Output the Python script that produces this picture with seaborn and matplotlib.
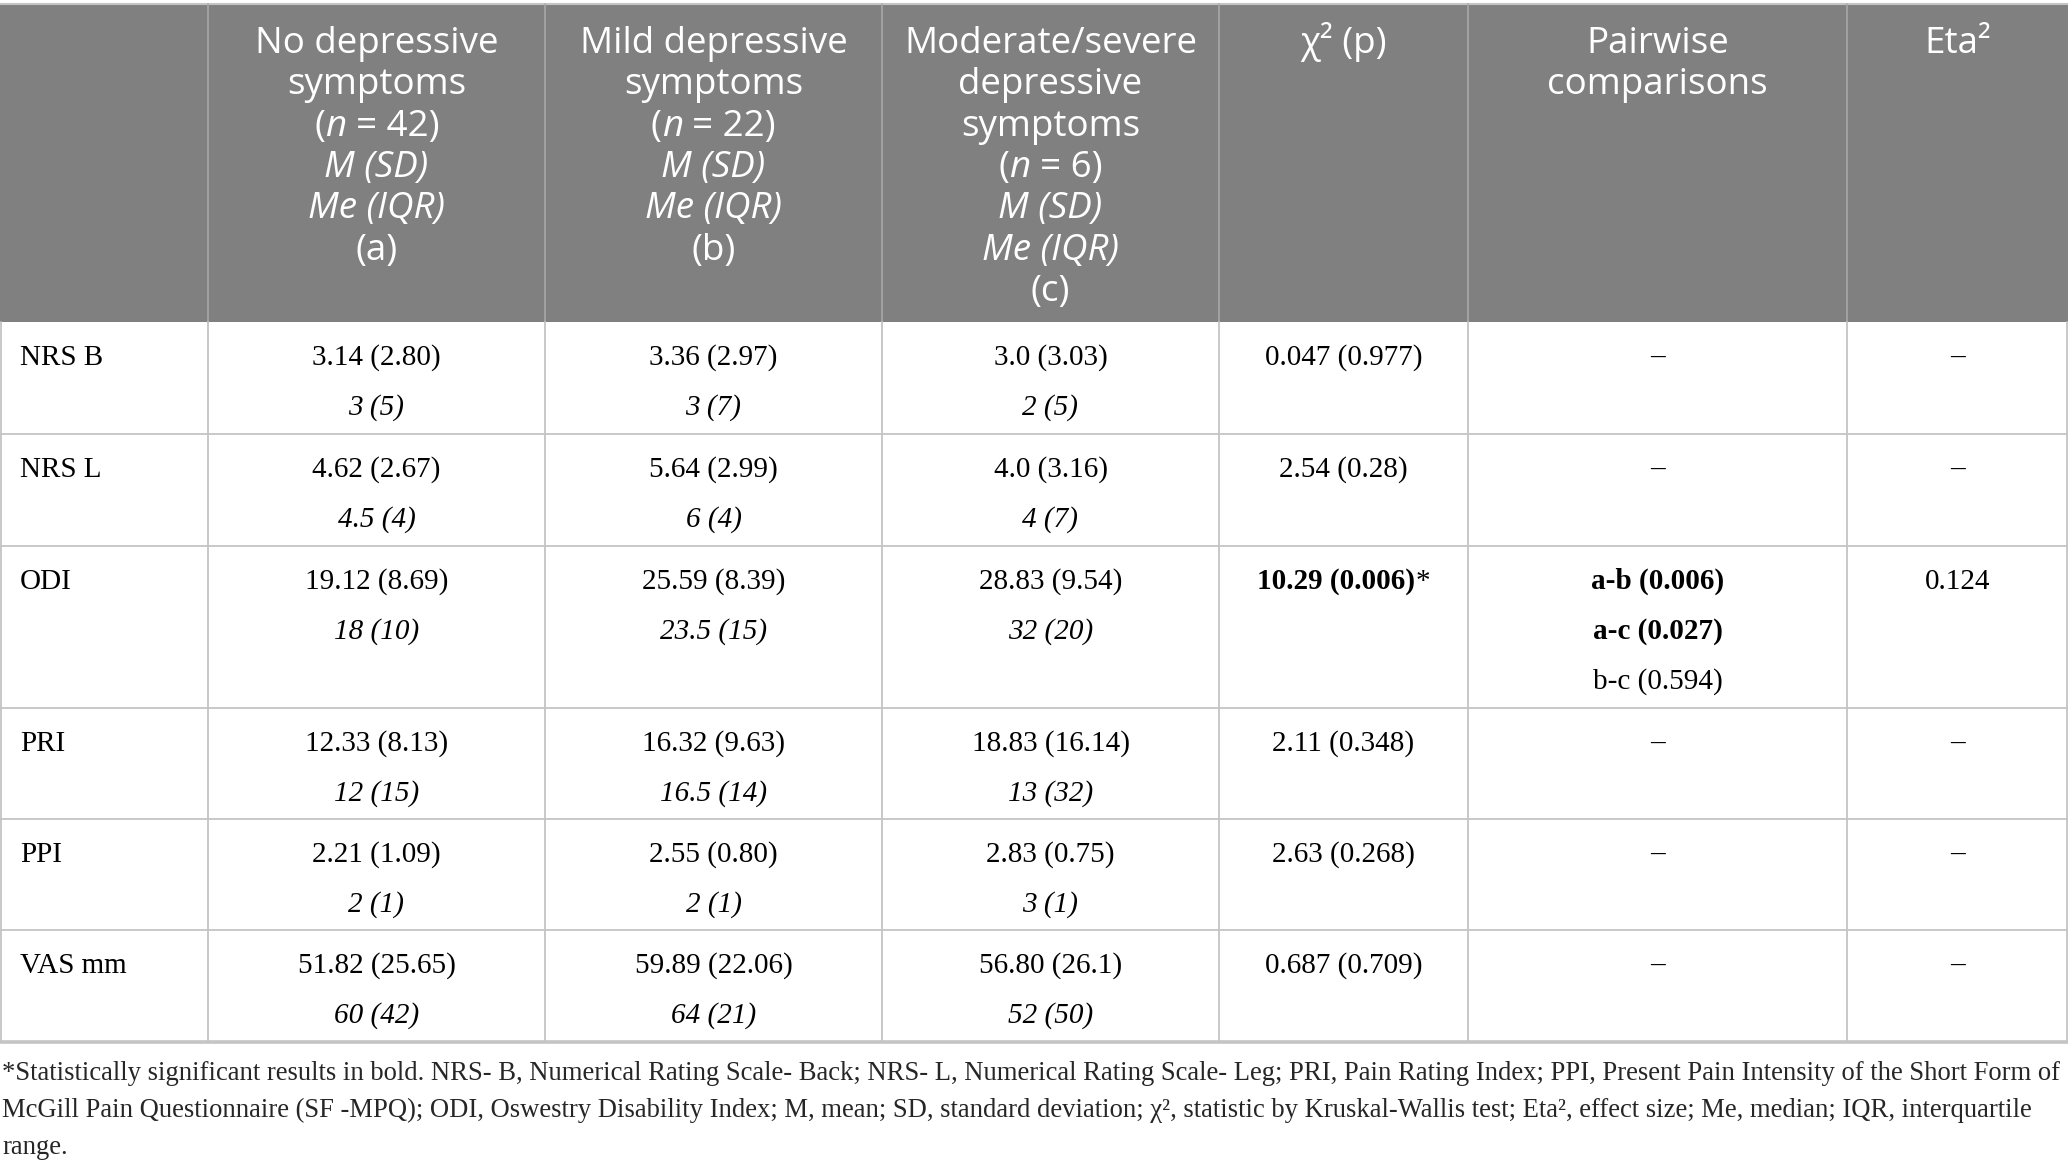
import matplotlib
matplotlib.use("Agg")
import matplotlib.pyplot as plt
import seaborn as sb

# ---- table data -------------------------------------------------------
groups = [["No depressive", "symptoms"],
          ["Mild depressive", "symptoms"],
          ["Moderate/severe", "depressive", "symptoms"]]
group_n = [42, 22, 6]
group_tags = ["(a)", "(b)", "(c)"]
stat_headers = ["χ² (p)", "Pairwise\ncomparisons", "Eta²"]

measures = ["NRS B", "NRS L", "ODI", "PRI", "PPI", "VAS mm"]
mean_sd = [["3.14 (2.80)", "3.36 (2.97)", "3.0 (3.03)"],
           ["4.62 (2.67)", "5.64 (2.99)", "4.0 (3.16)"],
           ["19.12 (8.69)", "25.59 (8.39)", "28.83 (9.54)"],
           ["12.33 (8.13)", "16.32 (9.63)", "18.83 (16.14)"],
           ["2.21 (1.09)", "2.55 (0.80)", "2.83 (0.75)"],
           ["51.82 (25.65)", "59.89 (22.06)", "56.80 (26.1)"]]
median_iqr = [["3 (5)", "3 (7)", "2 (5)"],
              ["4.5 (4)", "6 (4)", "4 (7)"],
              ["18 (10)", "23.5 (15)", "32 (20)"],
              ["12 (15)", "16.5 (14)", "13 (32)"],
              ["2 (1)", "2 (1)", "3 (1)"],
              ["60 (42)", "64 (21)", "52 (50)"]]
chi2_p = ["0.047 (0.977)", "2.54 (0.28)", "10.29 (0.006)", "2.11 (0.348)", "2.63 (0.268)", "0.687 (0.709)"]
chi2_sig = [False, False, True, False, False, False]
pairwise = [[], [], [("a-b (0.006)", True), ("a-c (0.027)", True), ("b-c (0.594)", False)], [], [], []]
eta2 = ["–", "–", "0.124", "–", "–", "–"]

footnote = ["*Statistically significant results in bold. NRS- B, Numerical Rating Scale- Back; NRS- L, Numerical Rating Scale- Leg; PRI, Pain Rating Index; PPI, Present Pain Intensity of the Short Form of",
            "McGill Pain Questionnaire (SF -MPQ); ODI, Oswestry Disability Index; M, mean; SD, standard deviation; χ², statistic by Kruskal-Wallis test; Eta², effect size; Me, median; IQR, interquartile",
            "range."]

# ---- layout (pixels) --------------------------------------------------
W, H = 2068, 1168
col_edges = [0, 208, 545, 882, 1219, 1468, 1847, 2068]
head_top, head_bottom = 4, 322
row_heights = [112, 112, 162, 111, 111, 112]

HEAD_FONT = ["Open Sans", "DejaVu Sans"]
BODY_FONT = ["Liberation Serif", "DejaVu Serif"]
HEAD_SIZE = 26.5
BODY_SIZE = 21
HEAD_GRAY = "#808080"
GRID = "#c4c4c4"

sb.set_theme(style="white")
plt.rcParams["font.family"] = BODY_FONT

fig = plt.figure(figsize=(W / 100, H / 100), dpi=100)
ax = fig.add_axes([0, 0, 1, 1])
ax.set_xlim(0, W)
ax.set_ylim(H, 0)
ax.axis("off")
renderer = fig.canvas.get_renderer()


def text_width(s, **kw):
    t = ax.text(0, 0, s, **kw)
    w = t.get_window_extent(renderer).width
    t.remove()
    return w


def draw_runs(xc, y, runs, family, size, color="black", ha="center"):
    # runs: list of (text, weight, style); None means a space gap
    space = text_width("x x", family=family, fontsize=size) - text_width("xx", family=family, fontsize=size)
    items = []
    total = 0
    for r in runs:
        if r is None:
            items.append((None, space))
            total += space
            continue
        s, weight, style = r
        t = ax.text(0, y, s, family=family, fontsize=size, color=color, fontweight=weight,
                    fontstyle=style, ha="left", va="baseline")
        w = t.get_window_extent(renderer).width
        items.append((t, w))
        total += w
    x = xc - total / 2 if ha == "center" else xc
    for t, w in items:
        if t is not None:
            t.set_x(x)
        x += w


N = ("normal", "normal")
I = ("normal", "italic")
B = ("bold", "normal")

# ---- header -----------------------------------------------------------
ax.add_patch(plt.Rectangle((0, head_top), W, head_bottom - head_top, color=HEAD_GRAY, lw=0))
ax.plot([0, W], [head_top, head_top], color=GRID, lw=1.5)
for x in col_edges[1:-1]:
    ax.plot([x, x], [head_top, head_bottom], color="#a8a8a8", lw=1.2)

head_base, head_step = 53, 41.3
for g in range(3):
    xc = (col_edges[g + 1] + col_edges[g + 2]) / 2
    lines = [[(s,) + N] for s in groups[g]]
    lines.append([("(",) + N, ("n",) + I, None, ("= %d)" % group_n[g],) + N])
    lines.append([("M (SD)",) + I])
    lines.append([("Me (IQR)",) + I])
    lines.append([(group_tags[g],) + N])
    for k, runs in enumerate(lines):
        draw_runs(xc, head_base + k * head_step, runs, HEAD_FONT, HEAD_SIZE, color="white")

for j, h in enumerate(stat_headers):
    xc = (col_edges[j + 4] + col_edges[j + 5]) / 2
    for k, s in enumerate(h.split("\n")):
        draw_runs(xc, head_base + k * head_step, [(s,) + N], HEAD_FONT, HEAD_SIZE, color="white")

# ---- body -------------------------------------------------------------
line1, step = 43, 50
y = head_bottom
for i, m in enumerate(measures):
    top = y
    bottom = y + row_heights[i]
    base = top + line1
    draw_runs(20, base, [(m,) + N], BODY_FONT, BODY_SIZE, ha="left")
    for g in range(3):
        xc = (col_edges[g + 1] + col_edges[g + 2]) / 2
        draw_runs(xc, base, [(mean_sd[i][g],) + N], BODY_FONT, BODY_SIZE)
        draw_runs(xc, base + step, [(median_iqr[i][g],) + I], BODY_FONT, BODY_SIZE)
    xc = (col_edges[4] + col_edges[5]) / 2
    if chi2_sig[i]:
        draw_runs(xc, base, [(chi2_p[i],) + B, ("*",) + N], BODY_FONT, BODY_SIZE)
    else:
        draw_runs(xc, base, [(chi2_p[i],) + N], BODY_FONT, BODY_SIZE)
    xc = (col_edges[5] + col_edges[6]) / 2
    if pairwise[i]:
        for k, (s, bold) in enumerate(pairwise[i]):
            draw_runs(xc, base + k * step, [(s,) + (B if bold else N)], BODY_FONT, BODY_SIZE)
    else:
        draw_runs(xc, base, [("–",) + N], BODY_FONT, BODY_SIZE)
    xc = (col_edges[6] + col_edges[7]) / 2
    draw_runs(xc, base, [(eta2[i],) + N], BODY_FONT, BODY_SIZE)
    lw = 2.6 if i == len(measures) - 1 else 1.3
    ax.plot([0, W], [bottom, bottom], color=GRID, lw=lw)
    for x in col_edges:
        xx = min(max(x, 0.7), W - 0.7)
        ax.plot([xx, xx], [top, bottom], color=GRID, lw=1.3)
    y = bottom

# ---- footnote ---------------------------------------------------------
w20 = text_width(footnote[0], family=BODY_FONT, fontsize=20)
fsize = 20 * 2062 / w20
for k, s in enumerate(footnote):
    ax.text(2, 1080 + k * 37, s, family=BODY_FONT, fontsize=fsize, ha="left", va="baseline")

fig.savefig("out.png", dpi=100, facecolor="white")
